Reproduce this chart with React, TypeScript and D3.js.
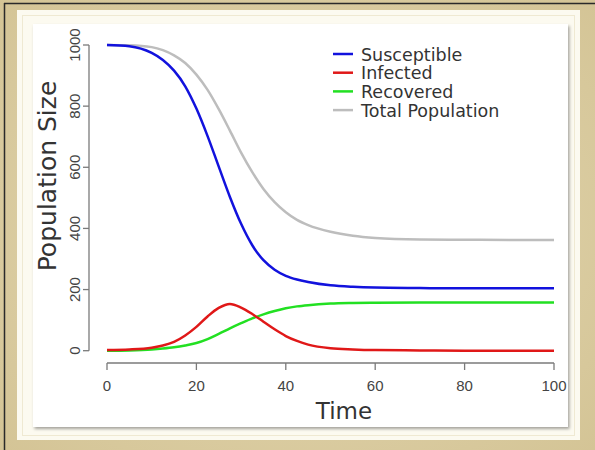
import React from "react";
import * as d3 from "d3";

const times = [0, 5, 10, 12.5, 15, 17.5, 20, 22.5, 25, 27.5, 30, 32.5, 35, 37.5, 40, 42.5, 45, 50, 55, 60, 70, 80, 90, 100];
const susceptible = [1000, 996, 974, 951, 916, 865, 792, 702, 602, 503, 415, 345, 296, 265, 245, 233, 225, 214, 209, 206.5, 205, 204, 204, 204];
const infected = [2, 4, 10, 17, 29, 50, 78, 112, 140, 153, 141, 120, 95, 70, 48, 32, 20, 8, 4, 2, 1, 0, 0, 0];
const recovered = [0, 1, 4, 7, 11, 17, 25, 38, 55, 73, 90, 106, 119, 130, 139, 145, 149, 154, 156, 157, 158, 158, 158, 158];
const total = [1000, 999, 993, 983, 966, 941, 903, 853, 790, 720, 648, 584, 529, 486, 453, 428, 411, 389, 376, 369, 364, 363, 362, 362];

const xTicks = [0, 20, 40, 60, 80, 100];
const yTicks = [0, 200, 400, 600, 800, 1000];

const seriesNames = ["Susceptible", "Infected", "Recovered", "Total Population"];
const seriesColors = ["#1212dd", "#e01818", "#22e022", "#bdbdbd"];

const FONT = "'DejaVu Sans', sans-serif";
const NUMFONT = "'Liberation Sans', sans-serif";

export default function App() {
  const x = d3.scaleLinear().domain([0, 100]).range([107, 554]);
  const y = d3.scaleLinear().domain([0, 1000]).range([350.7, 45]);
  const line = d3
    .line<number>()
    .x((_, i) => x(times[i]))
    .y((d) => y(d))
    .curve(d3.curveMonotoneX);

  const seriesData = [susceptible, infected, recovered, total];
  const drawOrder = [3, 0, 2, 1];

  return (
    <svg width={595} height={450} style={{ position: "absolute", left: 0, top: 0 }}>
      <defs>
        <filter id="sh" x="-5%" y="-5%" width="110%" height="110%">
          <feDropShadow dx="1.5" dy="2" stdDeviation="1.5" floodColor="#000" floodOpacity="0.35" />
        </filter>
        <radialGradient id="paper" cx="50%" cy="50%" r="75%">
          <stop offset="0%" stopColor="#e4d8b2" />
          <stop offset="100%" stopColor="#d3c394" />
        </radialGradient>
      </defs>
      <rect x={0} y={0} width={595} height={450} fill="url(#paper)" />
      <line x1={4} y1={3.5} x2={595} y2={3.5} stroke="#2a2a2a" strokeWidth={1.5} />
      <line x1={4.5} y1={3} x2={4.5} y2={450} stroke="#2a2a2a" strokeWidth={1.5} />
      <rect x={17} y={10} width={563} height={430} fill="#fcfaf0" />
      <rect x={22.5} y={15.5} width={552} height={420} fill="none" stroke="#efe9d2" strokeWidth={1} />
      <rect x={33} y={24} width={535} height={403} fill="#ffffff" filter="url(#sh)" />

      {/* y axis */}
      <line x1={89} y1={y(0)} x2={89} y2={y(1000)} stroke="#7a7a7a" strokeWidth={1.3} />
      {yTicks.map((t) => (
        <g key={"y" + t}>
          <line x1={83} x2={89} y1={y(t)} y2={y(t)} stroke="#7a7a7a" strokeWidth={1.3} />
          <text
            transform={`translate(80,${y(t)}) rotate(-90)`}
            textAnchor="middle"
            fontFamily={NUMFONT}
            fontSize={15}
            fill="#444"
          >
            {t}
          </text>
        </g>
      ))}

      {/* x axis */}
      <line x1={x(0)} y1={363} x2={x(100)} y2={363} stroke="#7a7a7a" strokeWidth={1.3} />
      {xTicks.map((t) => (
        <g key={"x" + t}>
          <line x1={x(t)} x2={x(t)} y1={363} y2={370} stroke="#7a7a7a" strokeWidth={1.3} />
          <text x={x(t)} y={391} textAnchor="middle" fontFamily={NUMFONT} fontSize={15} fill="#444">
            {t}
          </text>
        </g>
      ))}

      <text x={344} y={419} textAnchor="middle" fontFamily={FONT} fontSize={23} fill="#333">
        Time
      </text>
      <text
        transform={`translate(56,${176}) rotate(-90)`}
        textAnchor="middle"
        fontFamily={FONT}
        fontSize={25}
        fill="#333"
      >
        Population Size
      </text>

      {drawOrder.map((k) => (
        <path
          key={"s" + k}
          d={line(seriesData[k]) || ""}
          fill="none"
          stroke={seriesColors[k]}
          strokeWidth={2.5}
        />
      ))}

      {/* legend */}
      {seriesNames.map((n, i) => (
        <g key={n}>
          <line x1={333} x2={353} y1={54 + i * 18.7} y2={54 + i * 18.7} stroke={seriesColors[i]} strokeWidth={2.5} />
          <text x={361} y={54 + i * 18.7 + 6.5} fontFamily={FONT} fontSize={17.5} fill="#333">
            {n}
          </text>
        </g>
      ))}
    </svg>
  );
}
